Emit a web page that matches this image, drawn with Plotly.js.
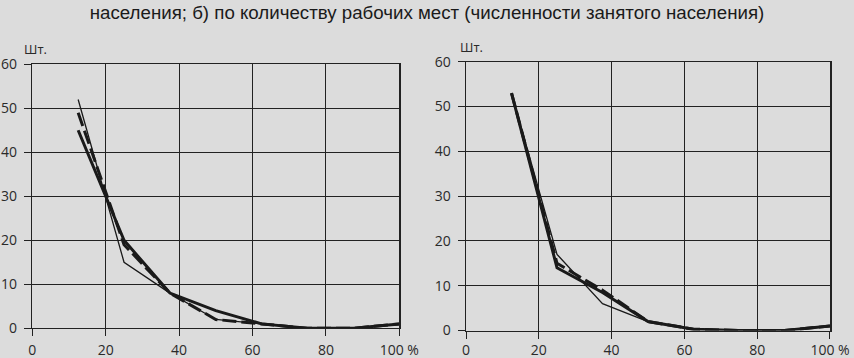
<!DOCTYPE html>
<html>
<head>
<meta charset="utf-8">
<script src="https://cdn.plot.ly/plotly-3.0.1.min.js"></script>
<style>
html,body{margin:0;padding:0;background:#dcdcdc;}
#chart{width:854px;height:358px;}
</style>
</head>
<body>
<div id="chart"></div>
<script>
// Shares of population (%) – class midpoints
const xPct = [12.5, 25, 37.5, 50, 62.5, 75, 87.5, 100];
// Left panel (а) — three series
const leftThin   = [52, 15, 8, 2, 1, 0, 0, 1];
const leftDashed = [49, 19, 8, 2, 1, 0, 0, 1];
const leftThick  = [45, 20, 8, 4, 1, 0, 0, 1];
// Right panel (б) — three series
const rightThin   = [53, 17, 6, 2, 0.3, 0, 0, 1];
const rightDashed = [53, 15, 9, 2, 0.3, 0, 0, 1];
const rightThick  = [53, 14, 8.5, 2, 0.3, 0, 0, 1];

const xTicks = [0, 20, 40, 60, 80, 100];
const xTickText = ['0', '20', '40', '60', '80', '100 %'];
const yTicks = [0, 10, 20, 30, 40, 50, 60];
const titleText = 'населения; б) по количеству рабочих мест (численности занятого населения)';
const unitY = 'Шт.';

const lineCol = '#1a1a1a';
function tr(y, xa, ya, width, dash) {
  return {x: xPct, y: y, xaxis: xa, yaxis: ya, type: 'scatter', mode: 'lines',
          line: {color: lineCol, width: width, dash: dash || 'solid'}, hoverinfo: 'skip'};
}
const data = [
  tr(leftThin, 'x', 'y', 1.3),
  tr(leftDashed, 'x', 'y', 3, '14px,5px'),
  tr(leftThick, 'x', 'y', 3),
  tr(rightThin, 'x2', 'y2', 1.3),
  tr(rightDashed, 'x2', 'y2', 3, '14px,5px'),
  tr(rightThick, 'x2', 'y2', 3)
];

const tickFont = {family: 'Open Sans, sans-serif', size: 14, color: '#2a2a2a'};
function xa(dom, anchor, standoff) {
  return {domain: dom, anchor: anchor, range: [0, 100], tickmode: 'array', tickvals: xTicks, ticktext: xTickText,
          showgrid: true, gridcolor: '#222', gridwidth: 1, showline: true, linecolor: '#222', linewidth: 1,
          mirror: true, ticks: 'outside', ticklen: 7, tickcolor: '#222', tickfont: tickFont,
          zeroline: false, automargin: false, ticklabelstandoff: standoff, fixedrange: true};
}
function ya(dom, anchor) {
  return {domain: dom, anchor: anchor, range: [0, 60], tickmode: 'array', tickvals: yTicks,
          showgrid: true, gridcolor: '#222', gridwidth: 1, showline: true, linecolor: '#222', linewidth: 1.5,
          mirror: true, ticks: 'outside', ticklen: 7, tickcolor: '#222', tickfont: tickFont,
          zeroline: false, automargin: false, ticklabelstandoff: 4, fixedrange: true};
}

const annFont = {family: 'Open Sans, sans-serif', size: 13, color: '#2a2a2a'};
const layout = {
  width: 854, height: 358,
  margin: {l: 0, r: 0, t: 0, b: 0, pad: 0},
  paper_bgcolor: '#dcdcdc', plot_bgcolor: '#dcdcdc',
  showlegend: false,
  title: {text: titleText, x: 0.5, xanchor: 'center', y: 0.966, yanchor: 'middle', yref: 'container',
          font: {family: 'Liberation Sans Narrow, Arial Narrow, Liberation Sans, sans-serif', size: 18.7, color: '#1a1a1a'}},
  xaxis: xa([0.0378, 0.4676], 'y', 2),
  yaxis: ya([0.083, 0.8204], 'x'),
  xaxis2: xa([0.5457, 0.9719], 'y2', 0),
  yaxis2: ya([0.0768, 0.8277], 'x2'),
  annotations: [
    {text: unitY, xref: 'paper', yref: 'paper', x: 0.0258, y: 0.863, xanchor: 'left', yanchor: 'middle', showarrow: false, font: annFont},
    {text: unitY, xref: 'paper', yref: 'paper', x: 0.5363, y: 0.8687, xanchor: 'left', yanchor: 'middle', showarrow: false, font: annFont}
  ]
};
Plotly.newPlot('chart', data, layout, {staticPlot: true, displayModeBar: false});
</script>
</body>
</html>
